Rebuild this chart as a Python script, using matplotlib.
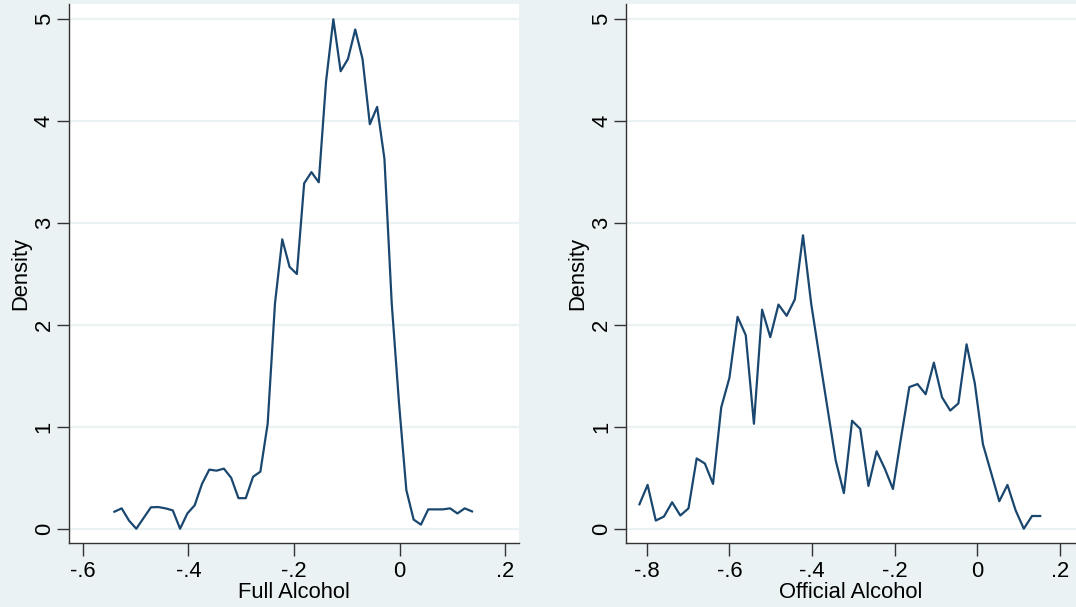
import numpy as np
import matplotlib
matplotlib.use("Agg")
import matplotlib.pyplot as plt

# ---- data ----
full_x_start, full_x_end = -0.540, 0.137
full_density = [0.167, 0.20, 0.08, 0.0, 0.105, 0.21, 0.213, 0.20, 0.18, 0.0,
                0.15, 0.23, 0.44, 0.58, 0.57, 0.59, 0.50, 0.30, 0.30, 0.51,
                0.56, 1.03, 2.21, 2.84, 2.57, 2.50, 3.39, 3.50, 3.40, 4.39,
                5.00, 4.49, 4.61, 4.90, 4.61, 3.97, 4.14, 3.63, 2.21, 1.23,
                0.38, 0.09, 0.04, 0.19, 0.19, 0.19, 0.20, 0.15, 0.20, 0.17]

off_x_start, off_x_end = -0.818, 0.152
official_density = [0.24, 0.43, 0.08, 0.12, 0.26, 0.13, 0.20, 0.69, 0.64, 0.44,
                    1.19, 1.48, 2.08, 1.90, 1.03, 2.15, 1.88, 2.20, 2.09, 2.25,
                    2.88, 2.21, 1.69, 1.18, 0.67, 0.35, 1.06, 0.98, 0.42, 0.76,
                    0.59, 0.39, 0.90, 1.39, 1.42, 1.32, 1.63, 1.29, 1.16, 1.23,
                    1.81, 1.43, 0.83, 0.55, 0.27, 0.43, 0.18, 0.0, 0.125, 0.125]

left_xticks = [-0.6, -0.4, -0.2, 0, 0.2]
left_xticklabels = ["-.6", "-.4", "-.2", "0", ".2"]
right_xticks = [-0.8, -0.6, -0.4, -0.2, 0, 0.2]
right_xticklabels = ["-.8", "-.6", "-.4", "-.2", "0", ".2"]
yticks = [0, 1, 2, 3, 4, 5]
yticklabels = ["0", "1", "2", "3", "4", "5"]

# ---- style ----
BG = "#EAF2F3"
LINE = "#1A476F"
plt.rcParams["font.family"] = ["Liberation Sans", "DejaVu Sans"]
FS = 15.8

W, H = 1076, 607
fig = plt.figure(figsize=(W / 100, H / 100), dpi=100, facecolor=BG)

def px_axes(x0, x1, ytop, ybot):
    return fig.add_axes([x0 / W, 1 - ybot / H, (x1 - x0) / W, (ybot - ytop) / H])

ax1 = px_axes(68.7, 519.3, 4, 543)
ax2 = px_axes(626, 1075.5, 4, 543)

panels = [
    (ax1, full_x_start, full_x_end, full_density, left_xticks, left_xticklabels,
     "Full Alcohol", (-0.6265, 0.2265)),
    (ax2, off_x_start, off_x_end, official_density, right_xticks, right_xticklabels,
     "Official Alcohol", (-0.8505, 0.2375)),
]

for ax, xs, xe, dens, xt, xtl, xlabel, xlim in panels:
    x = np.linspace(xs, xe, len(dens))
    ax.set_facecolor("white")
    ax.plot(x, dens, color=LINE, lw=1.6, zorder=3)
    ax.set_xlim(*xlim)
    ax.set_ylim(-0.14, 5.15)
    ax.set_xticks(xt)
    ax.set_xticklabels(xtl, fontsize=FS)
    ax.set_yticks(yticks)
    ax.set_yticklabels(yticklabels, fontsize=FS, rotation=90, va="center")
    ax.yaxis.grid(True, color=BG, lw=1.6, zorder=0)
    ax.xaxis.grid(False)
    ax.set_axisbelow(True)
    for s in ["top", "right"]:
        ax.spines[s].set_visible(False)
    for s in ["left", "bottom"]:
        ax.spines[s].set_color("#333333")
        ax.spines[s].set_linewidth(1.0)
    ax.tick_params(axis="x", length=9, width=1.0, color="#333333", pad=4)
    ax.tick_params(axis="y", length=9, width=1.0, color="#333333", pad=1)
    ax.set_xlabel(xlabel, fontsize=FS, labelpad=0)
    ax.set_ylabel("Density", fontsize=FS, labelpad=2)

fig.savefig("out.png", dpi=100, facecolor=BG)
